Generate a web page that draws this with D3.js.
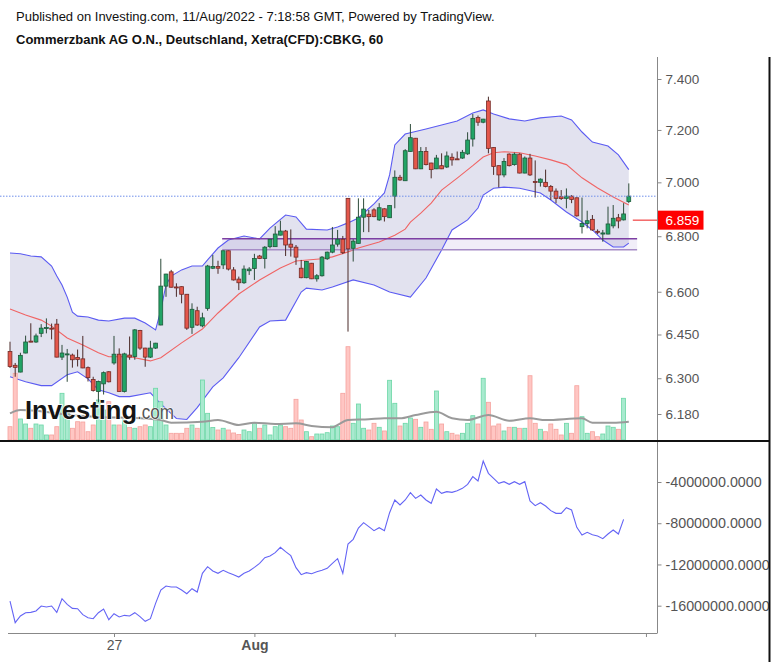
<!DOCTYPE html>
<html><head><meta charset="utf-8">
<script src="https://cdn.jsdelivr.net/npm/d3@7/dist/d3.min.js"></script>
<style>
body{margin:0;background:#fff}
svg{display:block}
text{font-family:Arial,"Liberation Sans",Helvetica,sans-serif}
</style>
</head><body>
<svg id="c" width="777" height="662"></svg>
<script>
// ---------- DATA ----------
const title1 = "Published on Investing.com, 11/Aug/2022 - 7:18:58 GMT, Powered by TradingView.";
const title2 = "Commerzbank AG O.N., Deutschland, Xetra(CFD):CBKG, 60";

const open = [6.391,6.344,6.321,6.386,6.427,6.424,6.454,6.472,6.472,6.486,6.372,6.382,6.379,6.371,6.366,6.336,6.296,6.255,6.281,6.322,
6.352,6.382,6.255,6.379,6.374,6.464,6.403,6.372,6.403,6.483,6.620,6.671,6.617,6.618,6.591,6.475,6.533,6.480,6.541,6.684,
6.690,6.696,6.747,6.678,6.645,6.632,6.675,6.683,6.728,6.719,6.762,6.762,6.804,6.819,6.771,6.760,6.684,6.650,6.702,6.646,
6.657,6.718,6.742,6.771,6.789,6.940,6.756,6.774,6.870,6.881,6.897,6.860,6.901,6.868,6.948,7.019,7.006,7.117,7.168,7.051,
7.117,7.073,7.051,7.063,7.058,7.095,7.089,7.092,7.108,7.165,7.248,7.230,7.313,7.132,7.063,7.028,7.107,7.067,7.107,7.035,
7.092,7.003,7.000,7.000,6.984,6.967,6.946,6.940,6.948,6.942,6.835,6.847,6.862,6.818,6.808,6.808,6.838,6.868,6.860,6.928];
const high = [6.425,6.352,6.387,6.446,6.489,6.453,6.486,6.506,6.488,6.504,6.414,6.400,6.384,6.398,6.445,6.340,6.305,6.292,6.323,6.324,
6.445,6.402,6.387,6.443,6.469,6.466,6.404,6.428,6.421,6.718,6.664,6.678,6.630,6.619,6.592,6.559,6.547,6.526,6.696,6.732,
6.711,6.748,6.748,6.688,6.654,6.694,6.688,6.736,6.732,6.764,6.790,6.837,6.857,6.823,6.825,6.768,6.714,6.710,6.703,6.663,
6.728,6.744,6.834,6.823,6.801,6.941,6.789,6.940,6.940,6.897,6.903,6.922,6.903,6.914,7.045,7.028,7.126,7.223,7.169,7.134,
7.134,7.074,7.104,7.110,7.117,7.110,7.117,7.123,7.191,7.262,7.256,7.243,7.330,7.133,7.064,7.092,7.110,7.113,7.110,7.098,
7.108,7.083,7.015,7.048,6.990,6.977,6.971,6.977,6.952,6.943,6.943,6.894,6.878,6.825,6.823,6.909,6.915,6.882,6.922,6.996];
const low = [6.335,6.305,6.320,6.385,6.423,6.421,6.441,6.454,6.433,6.371,6.362,6.288,6.336,6.340,6.334,6.289,6.255,6.219,6.245,6.286,
6.346,6.254,6.252,6.363,6.363,6.397,6.339,6.369,6.400,6.482,6.582,6.615,6.582,6.559,6.466,6.452,6.480,6.475,6.533,6.681,
6.664,6.681,6.676,6.640,6.606,6.628,6.660,6.642,6.717,6.683,6.756,6.761,6.803,6.728,6.726,6.696,6.648,6.648,6.645,6.636,
6.654,6.714,6.738,6.762,6.735,6.460,6.708,6.773,6.815,6.815,6.870,6.856,6.854,6.867,6.903,7.006,7.005,7.116,7.050,7.050,
7.064,7.015,7.050,7.050,7.054,7.063,7.085,7.089,7.104,7.136,7.216,7.226,7.110,7.028,6.981,7.019,7.060,7.063,7.034,7.034,
7.024,6.943,6.984,6.981,6.934,6.922,6.934,6.903,6.922,6.872,6.810,6.829,6.820,6.808,6.780,6.807,6.829,6.829,6.858,6.922];
const close = [6.340,6.337,6.378,6.424,6.424,6.445,6.472,6.474,6.471,6.372,6.386,6.383,6.363,6.364,6.335,6.302,6.259,6.289,6.319,6.288,
6.382,6.255,6.383,6.372,6.466,6.403,6.372,6.403,6.420,6.620,6.663,6.616,6.615,6.591,6.472,6.538,6.483,6.508,6.692,6.690,
6.684,6.747,6.681,6.642,6.632,6.681,6.681,6.719,6.719,6.760,6.789,6.808,6.819,6.768,6.760,6.724,6.650,6.708,6.646,6.657,
6.724,6.742,6.768,6.789,6.740,6.754,6.782,6.870,6.900,6.872,6.872,6.905,6.872,6.913,7.019,7.009,7.120,7.170,7.051,7.117,
7.067,7.048,7.092,7.051,7.100,7.085,7.088,7.114,7.161,7.245,7.230,7.242,7.129,7.060,7.028,7.079,7.063,7.107,7.035,7.092,
7.028,7.002,7.012,6.984,6.967,6.940,6.939,6.948,6.936,6.875,6.847,6.857,6.823,6.816,6.812,6.845,6.866,6.856,6.882,6.948];
// volume, thousands of shares (last bar not yet printed)
const volume = [419,2101,662,504,369,504,473,158,158,419,1471,945,369,576,567,261,473,1260,945,1206,
473,473,630,394,369,419,473,419,1629,1206,473,211,211,211,369,473,369,1890,841,394,
315,369,315,221,173,315,261,526,369,473,158,419,473,419,369,1282,630,261,104,189,
189,230,441,419,1471,2939,526,1134,369,315,526,400,284,1881,1156,441,526,693,652,400,
567,337,1544,504,261,211,158,211,526,765,504,1944,1188,441,504,284,400,400,369,369,
2025,526,337,261,504,337,158,526,211,1710,734,211,261,104,189,441,400,337,1314,0];
// volume moving average: [bar, thousands]
const volMA = [[0,841],[2,945],[5,923],[10,819],[17,725],[25,684],[29,630],[31,545],[37,576],[40,630],[44,473],[47,545],
[51,504],[55,526],[58,441],[62,400],[63,473],[65,630],[69,652],[72,684],[75,684],[78,788],[82,891],[85,684],[88,630],
[92,788],[96,608],[100,684],[103,630],[110,684],[112,545],[116,545],[119,576]];
// Bollinger bands: [bar, price]
const bbUpper = [[0,6.739],[2,6.736],[4,6.728],[6,6.725],[8,6.692],[9,6.656],[10,6.624],[11,6.581],[12,6.528],[13,6.514],[15,6.511],
[17,6.500],[19,6.497],[22,6.507],[24,6.507],[26,6.490],[28,6.466],[29,6.535],[30,6.624],[31,6.656],[33,6.678],[35,6.692],
[37,6.692],[38,6.714],[40,6.757],[42,6.786],[45,6.801],[48,6.790],[50,6.830],[53,6.878],[55,6.871],[57,6.826],[61,6.823],
[63,6.834],[65,6.849],[67,6.867],[70,6.919],[72,6.960],[73,7.028],[74,7.142],[76,7.184],[80,7.204],[83,7.219],[86,7.235],
[89,7.266],[91,7.278],[93,7.262],[96,7.243],[99,7.235],[102,7.247],[106,7.254],[108,7.239],[110,7.192],[112,7.153],
[115,7.138],[117,7.104],[119,7.048]];
const bbMiddle = [[0,6.539],[3,6.518],[6,6.500],[8,6.479],[11,6.438],[14,6.414],[17,6.387],[19,6.373],[23,6.373],[27,6.359],
[29,6.370],[33,6.421],[37,6.469],[40,6.525],[44,6.592],[48,6.642],[52,6.685],[55,6.710],[60,6.718],[62,6.725],[65,6.743],
[67,6.757],[71,6.779],[74,6.804],[76,6.826],[77,6.852],[79,6.885],[81,6.922],[83,6.971],[86,7.016],[89,7.063],[91,7.096],
[93,7.112],[95,7.116],[98,7.112],[101,7.100],[104,7.085],[107,7.067],[110,7.017],[113,6.979],[116,6.945],[119,6.915]];
const bbLower = [[0,6.305],[3,6.288],[6,6.275],[8,6.275],[11,6.312],[13,6.322],[15,6.298],[17,6.261],[19,6.251],[21,6.238],
[23,6.238],[27,6.251],[29,6.214],[32,6.165],[34,6.162],[36,6.201],[39,6.271],[41,6.301],[44,6.370],[48,6.476],[50,6.497],
[53,6.500],[56,6.599],[57,6.613],[60,6.606],[62,6.617],[66,6.642],[70,6.624],[73,6.599],[77,6.581],[80,6.649],[83,6.750],
[85,6.823],[88,6.860],[90,6.904],[91,6.952],[93,6.978],[95,6.982],[98,6.978],[102,6.960],[104,6.934],[107,6.889],
[110,6.852],[112,6.823],[114,6.786],[116,6.761],[118,6.761],[119,6.775]];
// On-balance volume, millions of shares
const obv = [-15.545,-17.647,-17.000,-16.677,-16.645,-16.515,-16.030,-16.127,-16.030,-16.645,-15.319,-15.868,-16.256,-16.289,
-16.871,-17.162,-17.259,-16.677,-16.321,-17.356,-16.774,-17.097,-16.935,-17.000,-16.677,-17.065,-17.517,-17.259,-15.771,
-14.478,-14.090,-14.187,-14.187,-14.478,-14.834,-14.349,-14.672,-12.860,-12.214,-12.634,-12.860,-12.569,-12.796,-12.990,
-13.216,-12.860,-12.634,-12.279,-11.891,-11.341,-11.179,-10.856,-10.338,-10.759,-11.147,-12.311,-12.990,-12.796,-12.893,
-12.699,-12.569,-12.376,-11.891,-11.438,-12.860,-10.015,-9.562,-8.463,-7.946,-8.334,-8.722,-8.431,-8.722,-6.975,-5.746,
-6.231,-5.746,-5.035,-5.585,-5.261,-5.746,-6.069,-4.679,-5.100,-4.938,-5.003,-4.841,-4.614,-4.226,-3.483,-3.903,-1.963,
-3.159,-3.644,-4.129,-3.968,-4.226,-3.968,-4.226,-3.968,-5.843,-6.296,-6.005,-6.328,-6.781,-7.039,-7.039,-6.490,-6.716,
-8.399,-9.142,-8.883,-9.110,-9.239,-9.498,-9.045,-8.657,-9.045,-7.622].map(v => v * 1e6);
// support zone (two horizontal lines) [fromBar, toBar, upper, lower]
const zone = {from: 40.8, to: 120.6, upper: 6.791, lower: 6.751};
const markerPrice = 6.859;
const priceTicks = [7.4, 7.2, 7.0, 6.8, 6.6, 6.45, 6.3, 6.18];
const obvTicks = [-4e6, -8e6, -12e6, -16e6];
const xTicks = [20, 47, 74, 101, 122.3];
const xTickLabels = ["27", "Aug", "", "", ""];

// ---------- LAYOUT ----------
const svg = d3.select("#c");
const axisX = 657.5, rightEdge = 770;
const mainTop = 57, mainBottom = 441, lowBottom = 633;

const x = d3.scaleLinear().domain([0, 119]).range([10, 628.8]);
const y = d3.scaleLog().domain([6.18, 7.4]).range([414, 79]);
const yv = d3.scaleLinear().domain([0, 3150]).range([440, 340]);
const yo = d3.scaleLinear().domain([-16e6, -4e6]).range([605.7, 482]);

const defs = svg.append("defs");
defs.append("clipPath").attr("id", "cm").append("rect")
  .attr("x", 0).attr("y", mainTop).attr("width", axisX).attr("height", mainBottom - mainTop - 1);
defs.append("clipPath").attr("id", "cl").append("rect")
  .attr("x", 0).attr("y", mainBottom + 1).attr("width", axisX).attr("height", lowBottom - mainBottom - 1);
defs.append("clipPath").attr("id", "cr").append("rect")
  .attr("x", 0).attr("y", 0).attr("width", rightEdge - 1).attr("height", 662);

// titles
svg.append("text").attr("x", 16).attr("y", 21).attr("font-size", 13).attr("fill", "#111").text(title1);
svg.append("text").attr("x", 16).attr("y", 44).attr("font-size", 13).attr("font-weight", "bold").attr("fill", "#111").text(title2);

const main = svg.append("g").attr("clip-path", "url(#cm)");

// Bollinger fill
const bandPts = bbUpper.map(d => [x(d[0]), y(d[1])]).concat(bbLower.slice().reverse().map(d => [x(d[0]), y(d[1])]));
main.append("path").attr("d", d3.line()(bandPts) + "Z").attr("fill", "#e2e2ef");

// zone fill
main.append("rect").attr("x", x(zone.from)).attr("width", x(zone.to) - x(zone.from))
  .attr("y", y(zone.upper)).attr("height", y(zone.lower) - y(zone.upper))
  .attr("fill", "rgba(150,120,200,0.13)");

const ln = d3.line().x(d => x(d[0])).y(d => y(d[1]));
main.append("path").attr("d", ln(bbUpper)).attr("fill", "none").attr("stroke", "#5b5bf2").attr("stroke-width", 1.1);
main.append("path").attr("d", ln(bbLower)).attr("fill", "none").attr("stroke", "#5b5bf2").attr("stroke-width", 1.1);
main.append("path").attr("d", ln(bbMiddle)).attr("fill", "none").attr("stroke", "#f06464").attr("stroke-width", 1.1);

// zone lines
main.append("line").attr("x1", x(zone.from)).attr("x2", x(zone.to)).attr("y1", y(zone.upper)).attr("y2", y(zone.upper))
  .attr("stroke", "#7d3fa3").attr("stroke-width", 1.6);
main.append("line").attr("x1", x(zone.from)).attr("x2", x(zone.to)).attr("y1", y(zone.lower)).attr("y2", y(zone.lower))
  .attr("stroke", "#a68cc6").attr("stroke-width", 1.6);

// volume
const bars = d3.range(close.length).filter(i => volume[i] > 0);
main.append("g").selectAll("rect").data(bars).join("rect")
  .attr("x", i => x(i) - 2).attr("width", 4)
  .attr("y", i => yv(volume[i])).attr("height", i => yv(0) - yv(volume[i]))
  .attr("fill", i => close[i] >= open[i] ? "#a8eacf" : "#ffc6c3")
  .attr("stroke", i => close[i] >= open[i] ? "#6cd6a6" : "#f5a29e").attr("stroke-width", 0.8);
main.append("path").attr("d", d3.line().x(d => x(d[0])).y(d => yv(d[1])).curve(d3.curveMonotoneX)(volMA))
  .attr("fill", "none").attr("stroke", "#9a9a9a").attr("stroke-width", 2);

// candles
const cg = main.append("g");
d3.range(close.length).forEach(i => {
  const up = close[i] >= open[i];
  const edge = up ? "#1d5a3a" : "#742a25";
  cg.append("line").attr("x1", x(i)).attr("x2", x(i)).attr("y1", y(high[i])).attr("y2", y(low[i]))
    .attr("stroke", up ? "#2d4a3a" : "#4a2a28").attr("stroke-width", 1);
  const t = y(Math.max(open[i], close[i])), b = y(Math.min(open[i], close[i]));
  cg.append("rect").attr("x", x(i) - 1.9).attr("width", 3.8).attr("y", t).attr("height", Math.max(1, b - t))
    .attr("fill", up ? "#22a466" : "#e4574b").attr("stroke", edge).attr("stroke-width", 0.8);
});

// last price dotted line
main.append("line").attr("x1", 0).attr("x2", axisX - 2).attr("y1", y(close[close.length - 1])).attr("y2", y(close[close.length - 1]))
  .attr("stroke", "#6f8fea").attr("stroke-width", 1).attr("stroke-dasharray", "1.5,1.5");

// marker line
svg.append("line").attr("x1", x(119) + 4).attr("x2", axisX).attr("y1", y(markerPrice)).attr("y2", y(markerPrice))
  .attr("stroke", "#f04040").attr("stroke-width", 1.2);

// watermark
const wm = svg.append("g");
wm.append("text").attr("x", 25).attr("y", 419).attr("font-size", 25).attr("font-weight", "bold")
  .attr("textLength", 112).attr("lengthAdjust", "spacingAndGlyphs")
  .attr("fill", "#151515").attr("stroke", "#fff").attr("stroke-width", 1.5).attr("paint-order", "stroke").text("Investing");
wm.append("text").attr("x", 137).attr("y", 419).attr("font-size", 20)
  .attr("textLength", 37).attr("lengthAdjust", "spacingAndGlyphs")
  .attr("fill", "#555").attr("stroke", "#fff").attr("stroke-width", 1.2).attr("paint-order", "stroke").text(".com");

// lower pane: OBV
const low2 = svg.append("g").attr("clip-path", "url(#cl)");
low2.append("path").attr("d", d3.line().x((d, i) => x(i)).y(d => yo(d))(obv))
  .attr("fill", "none").attr("stroke", "#6464f5").attr("stroke-width", 1.1);

// axes
function styleAxis(g, fs) {
  g.selectAll(".domain").remove();
  g.selectAll(".tick line").attr("stroke", "#888");
  g.selectAll(".tick text").attr("fill", "#555").attr("font-size", fs)
    .attr("font-family", 'Arial,"Liberation Sans",sans-serif');
}
const pa = svg.append("g").attr("transform", `translate(${axisX},0)`)
  .call(d3.axisRight(y).tickValues(priceTicks).tickFormat(d3.format(".3f")).tickSize(4).tickPadding(4));
styleAxis(pa, 13.5);
const oaWrap = svg.append("g").attr("clip-path", "url(#cr)");
const oa = oaWrap.append("g").attr("transform", `translate(${axisX},0)`)
  .call(d3.axisRight(yo).tickValues(obvTicks).tickFormat(d => d.toFixed(4)).tickSize(4).tickPadding(4));
styleAxis(oa, 14.3);
const xa = svg.append("g").attr("transform", `translate(0,${lowBottom})`)
  .call(d3.axisBottom(x).tickValues(xTicks).tickFormat((d, i) => xTickLabels[i]).tickSize(4).tickPadding(3));
styleAxis(xa, 14);
xa.selectAll(".tick text").attr("font-weight", (d, i) => i === 1 ? "bold" : "normal");

// marker label
const mg = svg.append("g");
mg.append("rect").attr("x", axisX).attr("y", y(markerPrice) - 9.5).attr("width", 46).attr("height", 19).attr("fill", "#ff0000");
mg.append("text").attr("x", axisX + 8).attr("y", y(markerPrice) + 5).attr("font-size", 13.5).attr("fill", "#fff").text(markerPrice.toFixed(3));

// frame lines
svg.append("line").attr("x1", axisX).attr("x2", axisX).attr("y1", mainTop).attr("y2", lowBottom).attr("stroke", "#888");
svg.append("line").attr("x1", 8).attr("x2", axisX).attr("y1", lowBottom + 0.5).attr("y2", lowBottom + 0.5).attr("stroke", "#888");
svg.append("line").attr("x1", 0).attr("x2", rightEdge).attr("y1", mainBottom).attr("y2", mainBottom).attr("stroke", "#111").attr("stroke-width", 2);
svg.append("line").attr("x1", rightEdge - 0.5).attr("x2", rightEdge - 0.5).attr("y1", mainTop).attr("y2", 662).attr("stroke", "#111").attr("stroke-width", 2);
</script>
</body></html>
